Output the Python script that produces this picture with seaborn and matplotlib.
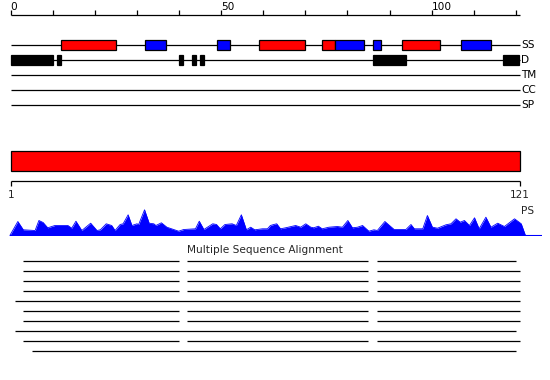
import matplotlib
matplotlib.use("Agg")
import matplotlib.pyplot as plt
import seaborn as sns
import pandas as pd
from matplotlib.patches import Rectangle

sns.set_style("white")
plt.rcParams['font.family'] = ['DejaVu Sans']

# ---------------- data ----------------
seq_len = 121
top_ticks = list(range(0, 121, 10))
top_labels = {0: "0", 50: "50", 100: "100"}

track_names = ["SS", "D", "TM", "CC", "SP"]

helix_segments = [(12, 25), (59, 70), (74, 77), (93, 102)]
strand_segments = [(32, 37), (49, 52), (77, 84), (86, 88), (107, 114)]
disorder_segments = [(0, 10), (11, 12), (40, 41), (43, 44), (45, 46), (86, 94), (117, 120.8)]

domain_segments = [(0, 121)]
scale_labels = ["1", "121"]

profile_pos = [-0.2, 1.7, 3.0, 5.8, 6.7, 7.7, 8.8, 10.5, 13.6, 14.5, 15.5, 16.9, 19.0,
               20.5, 21.3, 22.7, 24.0, 24.8, 26.0, 26.7, 27.9, 28.8, 30.0, 30.4, 31.8,
               32.9, 34.0, 34.5, 35.8, 37.1, 39.9, 41.1, 43.9, 44.8, 45.9, 48.0, 48.9,
               49.8, 50.9, 52.6, 53.6, 54.8, 56.0, 57.0, 58.0, 59.8, 61.0, 61.7, 62.5,
               63.2, 64.1, 65.3, 67.7, 68.9, 70.1, 71.3, 72.0, 73.1, 74.0, 75.6, 77.6,
               78.8, 80.1, 81.2, 82.4, 83.6, 85.1, 86.3, 87.1, 88.9, 91.1, 92.3, 93.9,
               95.1, 95.9, 97.9, 99.0, 100.2, 101.4, 103.4, 104.6, 105.8, 106.8, 107.8,
               109.0, 110.2, 111.3, 112.9, 114.1, 115.7, 117.3, 119.7, 121.3, 122.3]
profile_val = [0, 14, 5.7, 5, 15, 13, 7.7, 10, 10, 7.3, 14.3, 5, 12.3,
               5, 5.7, 11.7, 10, 5, 11, 11.7, 20.7, 10, 11.7, 11, 25.7,
               12.3, 11.7, 10, 12.7, 8.3, 4.3, 6, 6.7, 14.3, 6, 11.7, 11,
               6.7, 11, 11.7, 10, 20.7, 5.7, 8.3, 5.7, 6.7, 6.7, 10, 11,
               11.7, 6.7, 7.7, 10, 8.3, 11.7, 8.3, 7.7, 9.3, 6.7, 8.3, 9,
               8.3, 15, 7.7, 8.3, 10, 4.3, 5.7, 5, 14, 6, 6, 6,
               11, 6.7, 6.7, 20, 8.3, 7.3, 10.7, 11.7, 16.7, 13.3, 15,
               10, 17.7, 6.7, 18.3, 8.3, 12.3, 9, 16.7, 11.7, 0]

msa_title = "Multiple Sequence Alignment"
msa_rows = [
    [(3, 40), (42, 85), (87, 120)],
    [(3, 40), (42, 85), (87, 121)],
    [(3, 40), (42, 85), (87, 121)],
    [(3, 40), (42, 85), (87, 121)],
    [(1, 121)],
    [(3, 40), (42, 85), (87, 121)],
    [(3, 40), (42, 85), (87, 121)],
    [(1, 120)],
    [(3, 40), (42, 85), (87, 121)],
    [(5, 120)],
]

# ---------------- layout ----------------
W, H = 550, 380
x0_px, px_per_res = 10.7, 4.209
xlim = (-x0_px / px_per_res, (W - x0_px) / px_per_res)

fig = plt.figure(figsize=(W / 100, H / 100), dpi=100)
ax = fig.add_axes([0, 0, 1, 1])
ax.set_xlim(*xlim)
ax.set_ylim(H, 0)
ax.axis("off")

fs = 7.6
lw = 0.9
label_dx = 0.35

# top ruler
ruler_y = 15
ax.hlines(ruler_y, 0, seq_len, color="black", lw=lw)
ax.vlines(top_ticks, ruler_y - 5, ruler_y, color="black", lw=lw)
for t, lab in top_labels.items():
    ax.text(t, ruler_y - 8, lab, ha="left", va="center", fontsize=fs, color="black")

# feature tracks
track_y = {"SS": 45, "D": 60, "TM": 75, "CC": 90, "SP": 105}
for name in track_names:
    y = track_y[name]
    ax.hlines(y, 0, seq_len, color="black", lw=lw, zorder=1)
    ax.text(seq_len + label_dx, y, name, ha="left", va="center", fontsize=fs, color="black")

box_h = 10
def draw_boxes(segs, y, color):
    for s, e in segs:
        ax.add_patch(Rectangle((s, y - box_h / 2), e - s, box_h, facecolor=color,
                               edgecolor="black", lw=lw, zorder=3))

draw_boxes(helix_segments, track_y["SS"], "#ff0000")
draw_boxes(strand_segments, track_y["SS"], "#0000ff")
draw_boxes(disorder_segments, track_y["D"], "#000000")

# domain bar
dom_y, dom_h = 150.5, 20
for s, e in domain_segments:
    ax.add_patch(Rectangle((s, dom_y), e - s, dom_h, facecolor="#ff0000",
                           edgecolor="black", lw=lw, zorder=3))

# bottom scale
scale_y = 180.5
ax.hlines(scale_y, 0, seq_len, color="black", lw=lw)
ax.vlines([0, seq_len], scale_y, scale_y + 5, color="black", lw=lw)
ax.text(0, 195, scale_labels[0], ha="center", va="center", fontsize=fs)
ax.text(seq_len, 195, scale_labels[1], ha="center", va="center", fontsize=fs)
ax.text(seq_len + label_dx, 211, "PS", ha="left", va="center", fontsize=fs)

# MSA
ax.text(seq_len / 2, 250, msa_title, ha="center", va="center", fontsize=fs)
for i, row in enumerate(msa_rows):
    y = 260.5 + 10 * i
    for s, e in row:
        ax.hlines(y, s, e, color="black", lw=lw)

# profile (separate axes)
base_px = 235.5
axp = fig.add_axes([0, (H - base_px) / H, 1, 30 / H])
axp.set_xlim(*xlim)
axp.set_ylim(0, 30)
axp.axis("off")
prof = pd.DataFrame({"pos": profile_pos, "val": profile_val})
sns.lineplot(data=prof, x="pos", y="val", ax=axp, color="#0000ff", lw=0.6,
             estimator=None, sort=False)
axp.fill_between(prof["pos"], 0, prof["val"], color="#0000ff", lw=0)
axp.hlines(0, profile_pos[0], 126.2, color="#0000ff", lw=1.5)
axp.patch.set_alpha(0)

fig.savefig("out.png", dpi=100)
